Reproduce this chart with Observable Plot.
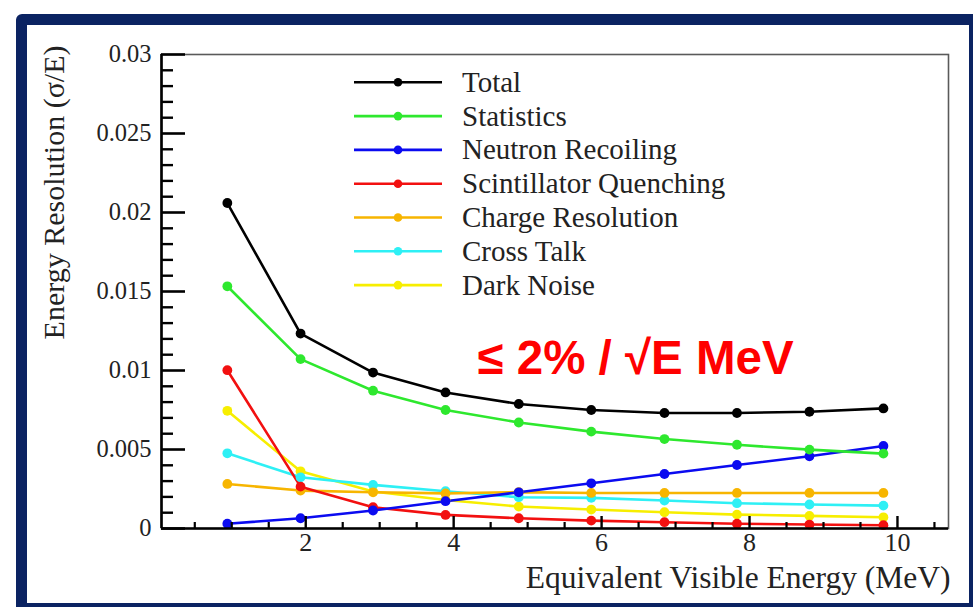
<!DOCTYPE html>
<html>
<head>
<meta charset="utf-8">
<script src="https://cdn.jsdelivr.net/npm/d3@7"></script>
<script src="https://cdn.jsdelivr.net/npm/@observablehq/plot@0.6"></script>
<style>
  html, body { margin: 0; padding: 0; background: #fff; overflow: hidden; }
  #wrap { position: relative; width: 973px; height: 607px; overflow: hidden; }
  #border { position: absolute; left: 16px; top: 14px; width: 942px; height: 578px;
            border: 11px solid #0b2362; border-radius: 6px; pointer-events: none; }
  #chart { position: absolute; left: 0; top: 0; }
</style>
</head>
<body>
<div id="wrap">
  <div id="chart"></div>
  <div id="border"></div>
</div>
<script>
// ---------- data ----------
const energy = [0.94, 1.93, 2.91, 3.89, 4.88, 5.86, 6.85, 7.83, 8.81, 9.81];
const total = [0.0206, 0.01234, 0.00987, 0.00861, 0.00788, 0.0075, 0.00731, 0.00731, 0.00739, 0.0076];
const statistics = [0.01533, 0.01072, 0.00872, 0.0075, 0.00671, 0.00613, 0.00566, 0.0053, 0.00499, 0.00474];
const neutronRecoiling = [0.0003, 0.00065, 0.00114, 0.00173, 0.00229, 0.00286, 0.00345, 0.00402, 0.00457, 0.00522];
const scintillatorQuenching = [0.01002, 0.00265, 0.00135, 0.00086, 0.00065, 0.0005, 0.0004, 0.0003, 0.00025, 0.00021];
const chargeResolution = [0.00282, 0.0024, 0.00229, 0.00222, 0.0023, 0.00225, 0.00225, 0.00225, 0.00225, 0.00225];
const crossTalk = [0.00476, 0.00324, 0.00276, 0.00236, 0.00198, 0.00194, 0.00177, 0.0016, 0.00152, 0.00145];
const darkNoise = [0.00745, 0.00362, 0.00234, 0.00180, 0.00139, 0.0012, 0.00103, 0.00088, 0.0008, 0.00071];

const seriesNames = ["Total", "Statistics", "Neutron Recoiling", "Scintillator Quenching", "Charge Resolution", "Cross Talk", "Dark Noise"];
const seriesValues = [total, statistics, neutronRecoiling, scintillatorQuenching, chargeResolution, crossTalk, darkNoise];
const seriesColors = ["#000000", "#2ee82e", "#0b0bf0", "#f21010", "#f7b500", "#2ef0f5", "#f7ee00"];

const yTicks = [0, 0.005, 0.01, 0.015, 0.02, 0.025, 0.03];
const yTickLabels = ["0", "0.005", "0.01", "0.015", "0.02", "0.025", "0.03"];
const xTicks = [2, 4, 6, 8, 10];
const xTickLabels = ["2", "4", "6", "8", "10"];
const xLabel = "Equivalent Visible Energy (MeV)";
const yLabel = "Energy Resolution (\u03C3/E)";
const annotation = "\u2264 2% / \u221AE MeV";

// ---------- layout ----------
const W = 973, H = 607;
const ML = 161, MR = 25, MT = 54, MB = 79;
const FW = W - ML - MR, FH = H - MT - MB;
const xDomain = [0.05, 10.69];
const yDomain = [0, 0.03];
const serif = "'Liberation Serif', 'Times New Roman', serif";

const yMinor = d3.range(0.001, 0.0300001, 0.001).filter(v => !yTicks.some(t => Math.abs(t - v) < 1e-9));
const xMinor = d3.range(0.5, 10.6, 0.5).filter(v => !xTicks.includes(v));

const rows = [];
seriesNames.forEach((name, s) => {
  energy.forEach((e, i) => rows.push({series: name, energy: e, value: seriesValues[s][i]}));
});
const drawOrder = [...seriesNames].reverse();
const ordered = drawOrder.flatMap(n => rows.filter(r => r.series === n));

const chart = Plot.plot({
  width: W, height: H,
  marginLeft: ML, marginRight: MR, marginTop: MT, marginBottom: MB,
  style: {fontFamily: serif, background: "transparent", color: "#000", overflow: "visible"},
  x: {domain: xDomain},
  y: {domain: yDomain},
  color: {domain: seriesNames, range: seriesColors},
  marks: [
    Plot.frame({stroke: "#5a5a5a", strokeWidth: 1.6}),
    Plot.line(ordered, {x: "energy", y: "value", z: "series", stroke: "series", strokeWidth: 2.6}),
    Plot.dot(ordered, {x: "energy", y: "value", fill: "series", r: 4.9}),
    Plot.ruleX([xDomain[0]], {stroke: "#000", strokeWidth: 2.6}),
    Plot.ruleY([0], {stroke: "#000", strokeWidth: 2.6}),
    Plot.tickY(yTicks, {y: d => d, insetRight: FW - 24, stroke: "#000", strokeWidth: 2.6}),
    Plot.tickY(yMinor, {y: d => d, insetRight: FW - 12, stroke: "#000", strokeWidth: 2.4}),
    Plot.tickX(xTicks, {x: d => d, insetTop: FH - 12, stroke: "#000", strokeWidth: 2.4}),
    Plot.tickX(xMinor, {x: d => d, insetTop: FH - 6, stroke: "#000", strokeWidth: 2.2}),
    Plot.axisY({ticks: yTicks, tickSize: 0, tickPadding: 10, label: null,
      tickFormat: d => yTickLabels[yTicks.indexOf(d)], fontSize: 24.5, fontFamily: serif, fill: "#222"}),
    Plot.axisX({ticks: xTicks, tickSize: 0, tickPadding: 4, label: null,
      tickFormat: d => xTickLabels[xTicks.indexOf(d)], fontSize: 26, fontFamily: serif, fill: "#222"}),
    Plot.text([yLabel], {frameAnchor: "top-left", rotate: -90, textAnchor: "end", lineAnchor: "bottom",
      dx: 63 - ML, dy: 45 - MT, fontSize: 30, fontFamily: serif, fill: "#222"}),
    Plot.text([xLabel], {frameAnchor: "bottom-right", textAnchor: "end", lineAnchor: "bottom",
      dx: 2, dy: 587 - (H - MB), fontSize: 31.5, fontFamily: serif, fill: "#222"}),
    Plot.text([annotation], {frameAnchor: "top-left", textAnchor: "start", lineAnchor: "bottom",
      dx: 477 - ML, dy: 373 - MT, fontSize: 47.5, fontWeight: "bold",
      fontFamily: "'Liberation Sans', Arial, sans-serif", fill: "#ff0000"})
  ]
});
document.getElementById("chart").appendChild(chart);

// ---------- legend (drawn into the same svg) ----------
const svg = d3.select(chart.tagName.toLowerCase() === "svg" ? chart : chart.querySelector("svg"));
const lg = svg.append("g").attr("class", "legend").attr("text-anchor", "start");
const legendTop = 82.3, legendStep = 33.8;
seriesNames.forEach((name, i) => {
  const y = legendTop + i * legendStep;
  lg.append("line").attr("x1", 354).attr("x2", 442).attr("y1", y).attr("y2", y)
    .attr("stroke", seriesColors[i]).attr("stroke-width", 2.6);
  lg.append("circle").attr("cx", 398).attr("cy", y).attr("r", 4.3).attr("fill", seriesColors[i]);
  lg.append("text").attr("x", 462).attr("y", y + 9.5).text(name)
    .attr("text-anchor", "start")
    .attr("font-family", serif).attr("font-size", 29).attr("fill", "#222");
});
</script>
</body>
</html>
